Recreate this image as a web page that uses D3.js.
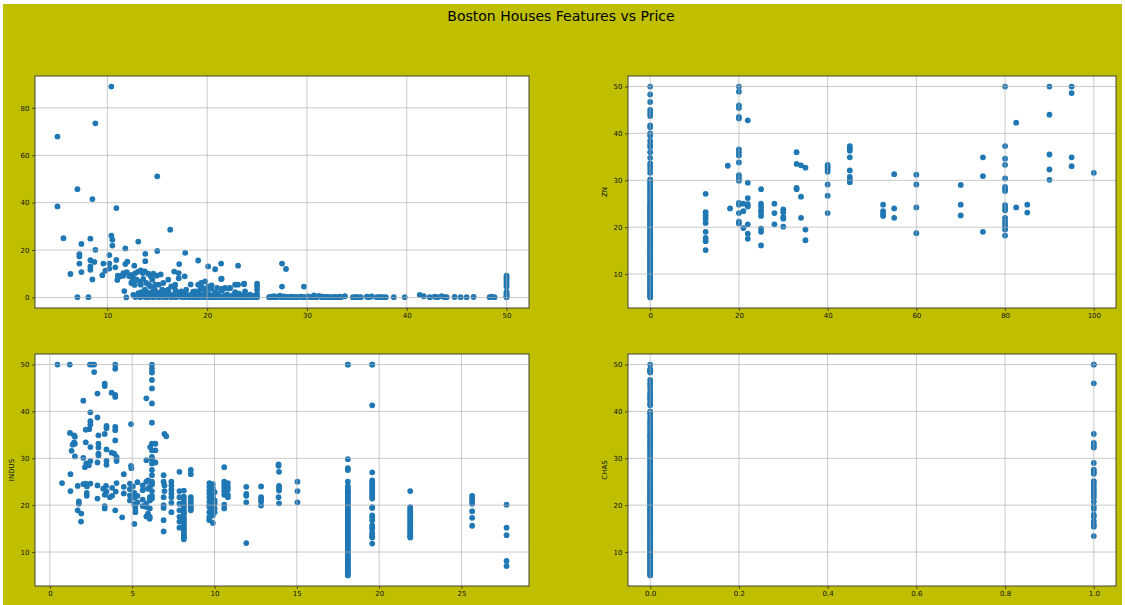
<!DOCTYPE html>
<html>
<head>
<meta charset="utf-8">
<script src="https://cdn.jsdelivr.net/npm/d3@7"></script>
<style>
    body { margin: 0; background: #ffffff; }
    text { font-family: "DejaVu Sans", sans-serif; }
</style>
</head>
<body>
<svg id="fig" width="1125" height="605"></svg>
<script>
// [price, CRIM]
const crimPoints = [
    [5.0, 67.9], [5.0, 38.4], [5.6, 25.0], [10.4, 89.0], [8.8, 73.5], [7.0, 45.7], [8.5, 41.5], [15.0, 51.1],
    [10.9, 37.7], [16.3, 28.6], [6.3, 9.9], [7.4, 22.6], [8.3, 24.8], [8.8, 20.1], [7.2, 18.3], [7.2, 17.3],
    [7.2, 14.3], [7.4, 10.7], [8.3, 15.7], [8.3, 13.1], [8.3, 11.7], [8.5, 7.6], [8.7, 15.0], [9.6, 14.3],
    [9.5, 9.4], [9.8, 11.3], [10.2, 17.9], [10.2, 14.3], [10.2, 12.2], [10.4, 26.1], [10.5, 24.4], [10.5, 21.9],
    [10.8, 12.7], [10.9, 15.8], [11.0, 7.4], [11.8, 20.7], [11.8, 14.1], [12.0, 15.1], [11.7, 2.7], [11.9, 0.0],
    [7.0, 0.1], [8.1, 0.1], [13.1, 23.6], [13.8, 18.4], [13.8, 15.3], [15.0, 19.6], [17.8, 18.8], [17.2, 14.1],
    [19.1, 15.6], [20.1, 13.1], [20.8, 11.9], [21.4, 14.3], [21.4, 7.8], [23.1, 13.4], [23.7, 5.6], [27.5, 14.3],
    [27.9, 12.0], [27.5, 4.6], [29.7, 4.6], [41.3, 1.1], [41.7, 0.5], [12.7, 13.4], [11.25, 8.9], [11.6, 10.3],
    [12.5, 6.8], [12.7, 5.4],
    [11.05, 9.2], [11.3, 8.9], [11.6, 9.2], [11.95, 10.7], [12.2, 8.9], [12.4, 9.5], [12.8, 10.3], [13.1, 10.9],
    [13.35, 11.4], [13.55, 10.3], [13.75, 11.0], [14.1, 10.0], [14.35, 8.9], [14.6, 10.0], [14.95, 9.2], [15.35, 9.7],
    [14.5, 7.5], [14.15, 5.4], [13.75, 3.3], [13.35, 5.4], [12.75, 5.4], [12.4, 6.1], [12.6, 8.1], [12.95, 7.5],
    [13.3, 6.6], [13.6, 7.8], [13.9, 6.1], [14.3, 4.7], [14.8, 5.4], [15.15, 5.4], [15.6, 6.1], [16.1, 7.5],
    [16.4, 4.7], [16.8, 5.4], [16.7, 10.9], [17.15, 10.3], [17.15, 8.1], [17.75, 8.9], [18.35, 5.5], [19.1, 5.4],
    [19.4, 6.1], [19.8, 6.8], [20.1, 4.7], [20.45, 5.1], [21.45, 7.9], [21.8, 4.0], [22.3, 4.0], [22.8, 5.4],
    [23.1, 5.4], [23.7, 5.8], [25.0, 5.8], [25.0, 4.7], [25.0, 3.3], [21.45, 3.6], [21.0, 4.0], [19.85, 3.3],
    [19.3, 3.3], [18.8, 2.6], [17.9, 3.3], [17.4, 2.6], [16.8, 3.3], [16.1, 3.3], [15.5, 3.3], [14.75, 3.3],
    [12.6, 1.1], [12.8, 0.2], [13.0, 0.7], [13.1, 1.8], [13.3, 0.1], [13.4, 2.2], [13.5, 0.5], [13.6, 1.4],
    [13.8, 0.2], [13.9, 2.6], [14.0, 0.9], [14.1, 0.1], [14.3, 1.7], [14.4, 0.4], [14.5, 2.3], [14.6, 0.1],
    [14.8, 1.0], [14.9, 0.3], [15.0, 1.9], [15.2, 0.1], [15.3, 0.7], [15.4, 2.4], [15.6, 0.2], [15.7, 1.3],
    [15.9, 0.1], [16.0, 2.9], [16.1, 0.5], [16.2, 1.6], [16.4, 0.1], [16.6, 0.3], [16.7, 1.2], [16.9, 0.1],
    [17.1, 0.6], [17.2, 2.0], [17.4, 0.2], [17.5, 0.9], [17.7, 0.1], [17.8, 1.5], [18.0, 0.3], [18.2, 0.1],
    [18.3, 1.1], [18.5, 0.2], [18.6, 2.4], [18.7, 0.1], [18.9, 0.6], [19.0, 0.1], [19.1, 1.8], [19.3, 0.2],
    [19.4, 0.8], [19.5, 4.2], [19.6, 0.1], [19.7, 1.4], [19.8, 0.3], [19.9, 2.7], [20.0, 0.1], [20.1, 0.6],
    [20.2, 1.2], [20.3, 0.2], [20.4, 3.6], [20.5, 0.1], [20.6, 0.9], [20.7, 0.2], [20.8, 2.1], [20.9, 0.1],
    [21.0, 0.5], [21.1, 1.5], [21.2, 0.1], [21.4, 0.3], [21.5, 2.9], [21.6, 0.1], [21.7, 0.7], [21.9, 0.2],
    [22.0, 1.3], [22.1, 0.1], [22.2, 3.8], [22.3, 0.4], [22.5, 0.1], [22.6, 1.0], [22.7, 0.2], [22.8, 2.2],
    [22.9, 0.1], [23.0, 0.6], [23.1, 0.1], [23.2, 1.6], [23.3, 0.3], [23.4, 0.1], [23.6, 0.9], [23.7, 0.2],
    [23.8, 2.6], [23.9, 0.1], [24.0, 0.5], [24.1, 0.1], [24.3, 1.2], [24.4, 0.2], [24.5, 0.1], [24.7, 0.7],
    [24.8, 0.1], [25.0, 0.3], [25.0, 1.5], [25.0, 0.1],
    [26.2, 0.1], [26.4, 0.3], [26.6, 0.1], [26.7, 0.5], [26.9, 0.1], [27.1, 0.2], [27.3, 0.8], [27.5, 0.1],
    [27.7, 0.4], [27.9, 0.1], [28.0, 0.2], [28.2, 0.1], [28.4, 0.3], [28.6, 0.1], [28.7, 0.1], [28.9, 0.2],
    [29.1, 0.1], [29.4, 0.3], [29.6, 0.1], [29.8, 0.1], [30.1, 0.4], [30.3, 0.1], [30.5, 0.1], [30.7, 0.9],
    [30.8, 0.2], [31.0, 0.1], [31.2, 0.7], [31.5, 0.1], [31.6, 0.3], [31.9, 0.1], [32.0, 0.2], [32.2, 0.1],
    [32.4, 0.1], [32.7, 0.2], [32.9, 0.1], [33.1, 0.1], [33.3, 0.3], [33.4, 0.1], [33.8, 0.5], [34.6, 0.1],
    [34.9, 0.2], [35.1, 0.1], [35.4, 0.1], [36.0, 0.3], [36.2, 0.1], [36.5, 0.4], [37.0, 0.1], [37.3, 0.2],
    [37.6, 0.1], [37.9, 0.1], [38.7, 0.1], [39.8, 0.1], [42.3, 0.1], [42.8, 0.3], [43.1, 0.1], [43.5, 0.5],
    [43.8, 0.1], [44.0, 0.1], [44.8, 0.2], [45.4, 0.1], [46.0, 0.1], [46.7, 0.2], [48.3, 0.1], [48.5, 0.3],
    [48.8, 0.1],
    [50, 9.2], [50, 8.5], [50, 7.7], [50, 6.9], [50, 6.1], [50, 5.3], [50, 4.6], [50, 2.5], [50, 1.8],
    [50, 1.2], [50, 0.6], [50, 0.1], [50, 0.3]
];

// price values on the ZN = 0 column
const zn0Prices = [
    50, 48.3, 46.7, 45.0, 44.4, 43.7, 41.7, 41.3, 40.0, 39.5, 38.4, 37.6, 37.1, 36.0, 34.8, 33.6, 33.0, 32.3,
    31.6, 30.2, 29.8, 29.4, 29.0, 28.6, 28.2, 27.8, 27.4, 27.0, 26.6, 26.2, 25.8, 25.4, 25.0, 24.7, 24.4, 24.1,
    23.8, 23.5, 23.2, 22.9, 22.6, 22.3, 22.0, 21.7, 21.4, 21.1, 20.8, 20.5, 20.2, 19.9, 19.6, 19.3, 19.0, 18.7,
    18.4, 18.1, 17.8, 17.5, 17.2, 16.9, 16.6, 16.3, 16.0, 15.7, 15.4, 15.1, 14.8, 14.5, 14.2, 13.9, 13.6, 13.3,
    13.0, 12.7, 12.4, 12.1, 11.8, 11.5, 11.2, 10.9, 10.6, 10.3, 10.0, 9.7, 9.4, 9.1, 8.8, 8.5, 8.2, 7.9, 7.6,
    7.3, 7.0, 6.7, 6.4, 6.1, 5.8, 5.5, 5.2, 5.0
];

// [ZN, price] for ZN > 0
const znPoints = [
    [12.5, 27.1], [12.5, 23.2], [12.5, 22.5], [12.5, 21.8], [12.5, 20.9], [12.5, 19.0], [12.5, 17.7], [12.5, 17.0], [12.5, 15.1],
    [17.5, 33.1], [18, 24.0],
    [20, 50], [20, 48.9], [20, 46.0], [20, 45.4], [20, 43.5], [20, 43.2], [20, 36.6], [20, 36.0], [20, 35.3],
    [20, 33.8], [20, 31.1], [20, 30.5], [20, 29.9], [20, 25.2], [20, 24.8], [20, 23.0], [20, 21.2], [20, 20.8],
    [21, 25.0], [21, 23.4], [21, 19.8],
    [22, 42.8], [22, 29.5], [22, 26.2], [22, 24.9], [22, 24.4], [22, 20.6], [22, 18.6], [22, 17.5],
    [25, 28.1], [25, 25.0], [25, 24.3], [25, 23.6], [25, 23.1], [25, 22.4], [25, 19.7], [25, 19.0], [25, 16.1],
    [28, 25.0], [28, 23.0], [28, 20.6],
    [30, 23.8], [30, 23.2], [30, 22.2], [30, 21.8], [30, 20.1],
    [33, 36.0], [33, 33.5], [33, 28.4], [33, 28.1],
    [34, 33.2], [34, 26.5], [34, 22.0],
    [35, 32.7], [35, 19.5], [35, 17.2],
    [40, 33.3], [40, 32.8], [40, 32.3], [40, 31.8], [40, 29.1], [40, 26.7], [40, 23.0],
    [45, 37.3], [45, 36.8], [45, 36.3], [45, 34.9], [45, 32.1], [45, 30.7], [45, 30.1], [45, 29.6],
    [52.5, 24.8], [52.5, 23.4], [52.5, 22.8], [52.5, 22.4],
    [55, 31.3], [55, 24.0], [55, 22.0],
    [60, 31.2], [60, 29.1], [60, 24.2], [60, 18.7],
    [70, 29.0], [70, 24.8], [70, 22.5],
    [75, 34.9], [75, 30.9], [75, 19.0],
    [80, 50], [80, 37.3], [80, 34.6], [80, 33.3], [80, 30.4], [80, 28.6], [80, 28.2], [80, 27.7], [80, 24.7],
    [80, 24.1], [80, 23.6], [80, 22.0], [80, 21.3], [80, 20.7], [80, 20.2], [80, 19.5], [80, 18.2],
    [82.5, 42.3], [82.5, 24.2],
    [85, 24.8], [85, 23.1],
    [90, 50], [90, 44.0], [90, 35.5], [90, 32.3], [90, 30.1],
    [95, 50], [95, 48.6], [95, 34.9], [95, 33.0],
    [100, 31.6]
];

// price values on the INDUS = 18.1, 19.58 and 21.89 columns
const indus181Prices = [
    50, 50, 29.8, 27.9, 27.5, 25.0, 24.0, 23.7, 23.2, 23.0, 22.7, 22.3, 21.9, 21.5, 21.1, 20.8, 20.4, 20.1,
    19.7, 19.3, 19.0, 18.6, 18.2, 17.9, 17.5, 17.2, 16.8, 16.4, 16.1, 15.7, 15.3, 15.0, 14.6, 14.3, 13.9, 13.5,
    13.2, 12.8, 12.4, 12.1, 11.7, 11.3, 11.0, 10.6, 10.2, 9.9, 9.5, 9.1, 8.8, 8.4, 8.1, 7.7, 7.4, 7.0, 6.6,
    6.3, 5.9, 5.6, 5.2, 5.0
];
const indus1958Prices = [
    50, 50, 41.3, 27.0, 25.3, 24.8, 24.4, 23.9, 23.5, 23.1, 22.7, 22.2, 21.8, 21.4, 19.6, 19.4, 17.8, 17.4,
    16.8, 15.7, 15.3, 14.9, 14.1, 13.7, 13.3, 13.1, 11.8
];
const indus2189Prices = [
    23.0, 19.6, 19.2, 18.8, 18.4, 18.0, 17.6, 17.2, 16.8, 16.4, 16.0, 15.6, 15.2, 14.8, 14.4, 14.0, 13.6, 13.3, 13.1
];

// [INDUS, price] for the other rows
const indusPoints = [
    [0.46, 50], [1.21, 50], [2.43, 50], [2.55, 50], [2.69, 50], [3.97, 50], [6.2, 50],
    [3.97, 49.1], [2.69, 48.4], [6.2, 49.1], [6.2, 48.3], [6.2, 46.7], [6.2, 44.9], [6.2, 41.7], [6.2, 37.6],
    [3.33, 45.9], [3.33, 45.4], [2.89, 43.8], [3.75, 44.0], [3.97, 43.5], [3.97, 43.1], [5.86, 42.8], [2.03, 42.3],
    [2.46, 39.8], [2.89, 38.7], [4.93, 37.3], [2.46, 37.9], [2.46, 37.2], [2.18, 36.1], [2.39, 36.2],
    [3.44, 36.9], [3.44, 36.4], [3.33, 35.2], [3.97, 36.7], [3.97, 36.0], [2.95, 34.9], [1.22, 35.4], [1.47, 34.9],
    [1.52, 34.6], [3.97, 33.8], [1.47, 33.4], [1.52, 33.1], [1.38, 32.9], [1.32, 31.6], [2.18, 33.4], [2.46, 32.4],
    [2.95, 33.1], [2.95, 32.3], [3.44, 31.9], [2.95, 31.0], [2.95, 30.6], [3.75, 31.2], [3.91, 31.0], [4.05, 30.3],
    [1.52, 30.4], [2.03, 30.1], [2.46, 29.4], [2.89, 29.1], [3.44, 29.5], [3.44, 28.6], [2.21, 28.9], [2.13, 28.1],
    [2.37, 28.5], [4.05, 29.9], [4.05, 29.4], [4.93, 28.4], [4.95, 27.9],
    [6.2, 33.1], [6.2, 31.7], [6.09, 32.4], [6.41, 33.1], [6.41, 31.7], [5.86, 29.6], [6.2, 30.3], [6.2, 28.9],
    [6.41, 29.1], [6.96, 35.2], [7.07, 34.7],
    [1.25, 26.6], [0.74, 24.7], [1.25, 23.0], [1.69, 24.1], [2.03, 24.5], [2.18, 24.6], [2.25, 24.0], [2.24, 22.6],
    [2.24, 22.0], [2.89, 21.4], [1.76, 20.3], [1.76, 20.8], [1.69, 18.9], [1.91, 18.2], [1.89, 16.5], [2.46, 24.6],
    [2.89, 24.2], [3.24, 23.5], [3.44, 22.9], [3.64, 21.7], [3.33, 22.2], [3.33, 19.8], [3.33, 19.3], [3.97, 18.9],
    [4.05, 24.7], [3.78, 23.7], [4.39, 17.4], [4.49, 26.6], [4.49, 22.5], [4.49, 23.9], [4.86, 24.6], [4.86, 23.4],
    [4.86, 22.1], [4.86, 21.0], [5.04, 24.0], [5.13, 22.6], [5.13, 21.6], [5.13, 20.2], [5.19, 19.8], [5.19, 19.3],
    [5.19, 18.5], [5.13, 16.0], [3.78, 22.0], [4.0, 22.9], [3.41, 24.1],
    [5.32, 24.9], [5.64, 24.2], [5.64, 23.2], [5.86, 25.0], [5.96, 25.3], [5.96, 23.5], [5.86, 20.3], [5.86, 19.6],
    [6.07, 21.0], [6.07, 19.3], [6.07, 17.5], [5.96, 18.2], [6.07, 21.7], [6.07, 23.9], [6.2, 24.6], [6.2, 25.0],
    [6.2, 26.4], [5.32, 22.0], [5.32, 20.6], [5.64, 21.2], [5.64, 19.8], [5.86, 17.6], [6.06, 17.1], [6.2, 22.0],
    [6.2, 21.4], [6.2, 23.0], [6.2, 27.5], [6.2, 29.8], [6.2, 24.4],
    [6.91, 26.4], [6.91, 25.0], [6.96, 24.2], [6.96, 23.0], [6.91, 21.7], [6.91, 20.0], [6.91, 19.4], [6.91, 16.8], [6.91, 14.4],
    [7.38, 25.0], [7.38, 24.2], [7.38, 23.3], [7.38, 22.5], [7.38, 21.7], [7.38, 20.5], [7.38, 18.5],
    [7.87, 27.1], [7.87, 23.0], [7.87, 21.7], [7.87, 20.3], [7.87, 18.9], [7.87, 17.5], [7.87, 16.5], [7.87, 15.2],
    [8.14, 23.1], [8.14, 21.8], [8.14, 21.0], [8.14, 20.4], [8.14, 19.9], [8.14, 19.6], [8.14, 18.9], [8.14, 18.4],
    [8.14, 18.2], [8.14, 17.5], [8.14, 17.0], [8.14, 16.6], [8.14, 16.2], [8.14, 15.6], [8.14, 15.2], [8.14, 14.8],
    [8.14, 14.5], [8.14, 13.9], [8.14, 13.5], [8.14, 13.2], [8.14, 13.1], [8.14, 12.7],
    [8.56, 27.5], [8.56, 26.6], [8.56, 21.7], [8.56, 21.2], [8.56, 20.6], [8.56, 20.0], [8.56, 19.6], [8.56, 19.3], [8.56, 18.9],
    [9.69, 24.7], [9.69, 23.9], [9.69, 23.2], [9.69, 22.5], [9.69, 21.7], [9.69, 20.8], [9.69, 20.0], [9.69, 19.6],
    [9.69, 18.5], [9.69, 17.5], [9.69, 17.1], [9.69, 16.8],
    [9.9, 24.5], [9.9, 23.7], [9.9, 23.1], [9.9, 22.4], [9.9, 21.7], [9.9, 21.0], [9.9, 20.4], [9.9, 19.8],
    [9.9, 19.0], [9.9, 18.4], [9.9, 17.8], [9.9, 16.2],
    [10.01, 22.8], [10.01, 21.0], [10.01, 20.3], [10.01, 19.3], [10.01, 18.5],
    [10.59, 28.1], [10.59, 25.0], [10.59, 24.4], [10.59, 23.7], [10.59, 23.0], [10.59, 22.2], [10.59, 20.1], [10.59, 19.3],
    [10.81, 24.7], [10.81, 23.9], [10.81, 23.3], [10.81, 22.2], [10.81, 21.7],
    [11.93, 23.9], [11.93, 22.4], [11.93, 22.0], [11.93, 20.6], [11.93, 11.9],
    [12.83, 24.0], [12.83, 21.7], [12.83, 21.2], [12.83, 20.8], [12.83, 19.9],
    [13.89, 28.7], [13.89, 28.4], [13.92, 27.1], [13.92, 24.1], [13.92, 23.6], [13.92, 23.1], [13.89, 21.7], [13.92, 20.4],
    [15.04, 25.0], [15.04, 23.0], [15.04, 20.6],
    [25.65, 22.0], [25.65, 21.4], [25.65, 20.9], [25.65, 20.3], [25.65, 18.7], [25.65, 17.3], [25.65, 15.6],
    [27.74, 20.1], [27.74, 15.2], [27.74, 13.6], [27.74, 8.1], [27.74, 7.0]
];

// price values for CHAS = 0 and CHAS = 1
const chas0Prices = [
    50, 49.0, 48.8, 48.5, 48.3, 46.7, 46.0, 45.4, 44.8, 44.0, 43.5, 43.1, 42.8, 42.3, 41.7, 41.3, 40.0, 39.8,
    39.4, 38.7, 38.1, 37.6, 37.2, 36.6, 36.2, 35.7, 35.2, 34.9, 34.5, 34.0, 33.6, 33.2, 32.9, 32.5, 32.1, 31.7,
    31.2, 30.8, 30.4, 30.0, 29.6, 29.1, 28.7, 28.4, 28.0, 27.5, 27.1, 26.7, 26.4, 26.0, 25.6, 25.2, 25.0, 24.7,
    24.4, 24.1, 23.8, 23.5, 23.2, 22.9, 22.6, 22.3, 22.0, 21.7, 21.4, 21.1, 20.8, 20.5, 20.2, 19.9, 19.6, 19.3,
    19.0, 18.7, 18.4, 18.1, 17.8, 17.5, 17.2, 16.9, 16.6, 16.3, 16.0, 15.7, 15.4, 15.1, 14.8, 14.5, 14.2, 13.9,
    13.6, 13.3, 13.0, 12.7, 12.4, 12.1, 11.8, 11.5, 11.2, 10.9, 10.6, 10.3, 10.0, 9.7, 9.4, 9.1, 8.8, 8.5, 8.2,
    7.9, 7.6, 7.3, 7.0, 6.7, 6.4, 6.1, 5.8, 5.5, 5.2, 5.0
];
const chas1Prices = [
    50, 50, 46.0, 35.2, 33.3, 32.8, 32.3, 29.0, 27.6, 27.1, 26.7, 25.1, 24.6, 24.0, 23.3, 22.8, 22.3, 21.7,
    20.8, 19.8, 19.2, 18.0, 17.5, 16.6, 15.9, 15.4, 13.4
];

const crimXTicks = [10, 20, 30, 40, 50];
const crimYTicks = [0, 20, 40, 60, 80];
const priceTicks = [10, 20, 30, 40, 50];
const znXTicks = [0, 20, 40, 60, 80, 100];
const indusXTicks = [0, 5, 10, 15, 20, 25];
const chasXTicks = [0, 0.2, 0.4, 0.6, 0.8, 1.0];

const svg = d3.select('#fig');

svg.append('rect')
    .attr('x', 3).attr('y', 4)
    .attr('width', 1119).attr('height', 601)
    .attr('fill', '#bfbf00');

svg.append('text')
    .attr('x', 561).attr('y', 21)
    .attr('text-anchor', 'middle')
    .style('font-size', '14px')
    .attr('fill', '#000')
    .text('Boston Houses Features vs Price');

const panels = [
    {points: crimPoints, box: {x: 35, y: 76, w: 494, h: 232},
        xTicks: crimXTicks, yTicks: crimYTicks, xFormat: d3.format('d'), ylabel: ''},
    {points: zn0Prices.map(p => [0, p]).concat(znPoints), box: {x: 628, y: 76, w: 488, h: 232},
        xTicks: znXTicks, yTicks: priceTicks, xFormat: d3.format('d'), ylabel: 'ZN'},
    {points: indusPoints
            .concat(indus181Prices.map(p => [18.1, p]))
            .concat(indus1958Prices.map(p => [19.58, p]))
            .concat(indus2189Prices.map(p => [21.89, p])),
        box: {x: 35, y: 354, w: 494, h: 232},
        xTicks: indusXTicks, yTicks: priceTicks, xFormat: d3.format('d'), ylabel: 'INDUS'},
    {points: chas0Prices.map(p => [0, p]).concat(chas1Prices.map(p => [1, p])),
        box: {x: 628, y: 354, w: 488, h: 232},
        xTicks: chasXTicks, yTicks: priceTicks, xFormat: d3.format('.1f'), ylabel: 'CHAS'}
];

// matplotlib style autoscale: 5% margin on each side
function padded(ext) {
    const m = (ext[1] - ext[0]) * 0.05;
    return [ext[0] - m, ext[1] + m];
}

panels.forEach(p => {
    const g = svg.append('g').attr('transform', `translate(${p.box.x},${p.box.y})`);

    const x = d3.scaleLinear()
        .domain(padded(d3.extent(p.points, d => d[0])))
        .range([0, p.box.w]);
    const y = d3.scaleLinear()
        .domain(padded(d3.extent(p.points, d => d[1])))
        .range([p.box.h, 0]);

    g.append('rect')
        .attr('width', p.box.w).attr('height', p.box.h)
        .attr('fill', '#ffffff');

    g.selectAll('circle.dot')
        .data(p.points)
        .enter()
        .append('circle')
        .attr('class', 'dot')
        .attr('cx', d => x(d[0]))
        .attr('cy', d => y(d[1]))
        .attr('r', 2.9)
        .attr('fill', '#1f77b4');

    // grid
    g.selectAll('line.vgrid')
        .data(p.xTicks)
        .enter()
        .append('line')
        .attr('x1', d => x(d)).attr('x2', d => x(d))
        .attr('y1', 0).attr('y2', p.box.h)
        .attr('stroke', '#b0b0b0').attr('stroke-width', 0.8).attr('stroke-opacity', 0.85);
    g.selectAll('line.hgrid')
        .data(p.yTicks)
        .enter()
        .append('line')
        .attr('y1', d => y(d)).attr('y2', d => y(d))
        .attr('x1', 0).attr('x2', p.box.w)
        .attr('stroke', '#b0b0b0').attr('stroke-width', 0.8).attr('stroke-opacity', 0.85);

    g.append('rect')
        .attr('width', p.box.w).attr('height', p.box.h)
        .attr('fill', 'none')
        .attr('stroke', '#333333').attr('stroke-width', 0.9);

    const xAxis = d3.axisBottom(x)
        .tickValues(p.xTicks)
        .tickSize(3)
        .tickPadding(2.5)
        .tickFormat(p.xFormat);
    const yAxis = d3.axisLeft(y)
        .tickValues(p.yTicks)
        .tickSize(3)
        .tickPadding(2.5)
        .tickFormat(d3.format('d'));

    const gx = g.append('g').attr('transform', `translate(0,${p.box.h})`).call(xAxis);
    const gy = g.append('g').call(yAxis);
    [gx, gy].forEach(a => {
        a.select('.domain').remove();
        a.selectAll('.tick line').attr('stroke', '#222').attr('stroke-width', 0.7);
        a.selectAll('.tick text')
            .attr('fill', '#111')
            .style('font-size', '7px')
            .style('font-family', '"DejaVu Sans", sans-serif');
    });

    if (p.ylabel) {
        g.append('text')
            .attr('transform', `translate(-21,${p.box.h / 2}) rotate(-90)`)
            .attr('text-anchor', 'middle')
            .style('font-size', '7px')
            .attr('fill', '#111')
            .text(p.ylabel);
    }
});
</script>
</body>
</html>
